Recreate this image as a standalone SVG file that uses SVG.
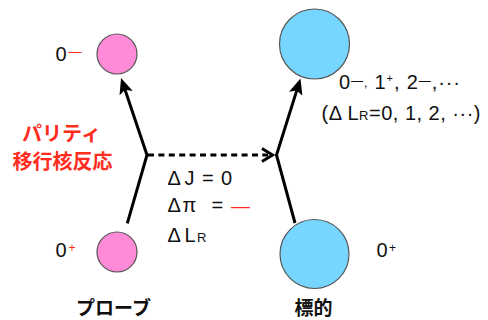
<svg xmlns="http://www.w3.org/2000/svg" width="488" height="320" viewBox="0 0 488 320">
  <style>
    .lat { font-family: "Liberation Sans", Arial, sans-serif; font-size: 20px; fill: #111; }
    .jp { font-family: "Noto Sans CJK JP", "Noto Sans", sans-serif; font-weight: 700; font-size: 19px; fill: #111; }
    .red { fill: #ff2d20; }
    .sub { font-size: 13px; }
    .sup { font-size: 12px; }
    .probe { fill: #ff8ad8; stroke: #555; stroke-width: 1.2; }
    .target { fill: #76d6ff; stroke: #555; stroke-width: 1.2; }
    .arrow { fill: none; stroke: #000; stroke-width: 3; stroke-linejoin: miter; }
    .dash { fill: none; stroke: #000; stroke-width: 3; stroke-dasharray: 6 4.4; }
  </style>
  <defs>
    <marker id="head" markerUnits="userSpaceOnUse" viewBox="0 0 16 14" markerWidth="16" markerHeight="14" refX="8" refY="7" orient="auto">
      <path d="M0,0 L16,7 L0,14 L3.5,7 Z" fill="#000"/>
    </marker>
  </defs>

  <!-- probe nucleus: final state -->
  <g id="probe-final">
    <circle class="probe" cx="117" cy="54" r="20"/>
    <text class="lat" x="55.5" y="61">0<tspan class="red" x="68.5" y="55.5" style="font-size:13px">—</tspan></text>
  </g>

  <!-- probe nucleus: initial state -->
  <g id="probe-initial">
    <circle class="probe" cx="117" cy="252" r="20"/>
    <text class="lat" x="55.5" y="257">0<tspan class="red sup" x="68.5" y="251.5">+</tspan></text>
  </g>

  <!-- target nucleus: excited states -->
  <g id="target-final">
    <circle class="target" cx="314.5" cy="44" r="35"/>
    <text class="lat" x="339" y="89" textLength="121" lengthAdjust="spacing">0<tspan dy="-4.5" style="font-size:12px">—</tspan><tspan dy="2" style="font-size:12px">,</tspan><tspan dy="2.5"> 1</tspan><tspan dy="-7.5" style="font-size:11px">+</tspan><tspan dy="7.5">, 2</tspan><tspan dy="-4.5" style="font-size:12px">—</tspan><tspan dy="4.5">,···</tspan></text>
    <text class="lat" x="321.5" y="120" textLength="159" lengthAdjust="spacing">(Δ L<tspan style="font-size:13px">R</tspan>=0, 1, 2, ···)</text>
  </g>

  <!-- target nucleus: ground state -->
  <g id="target-initial">
    <circle class="target" cx="314.5" cy="254" r="34.5"/>
    <text class="lat" x="376.5" y="257">0<tspan class="sup" x="389" y="252">+</tspan></text>
  </g>

  <!-- reaction labels -->
  <g id="reaction-label">
    <text class="jp red" x="61.5" y="141" text-anchor="middle" style="font-size:20px">パリティ</text>
    <text class="jp red" x="62.5" y="169" text-anchor="middle" style="font-size:20px">移行核反応</text>
  </g>

  <g id="transfer-label">
    <text class="lat" y="185"><tspan x="167.5">Δ</tspan><tspan x="184.5">J</tspan><tspan x="202">=</tspan><tspan x="221">0</tspan></text>
    <text class="lat" y="212"><tspan x="167.5">Δ</tspan><tspan x="182.5">π</tspan><tspan x="211.5">=</tspan><tspan class="red" x="231" style="font-size:19px">—</tspan></text>
    <text class="lat" y="242"><tspan x="167.5">Δ</tspan><tspan x="184.5">L</tspan><tspan class="sub" x="197">R</tspan></text>
  </g>

  <g id="probe-caption">
    <text class="jp" x="113.5" y="315" text-anchor="middle">プローブ</text>
  </g>
  <g id="target-caption">
    <text class="jp" x="313.5" y="315" text-anchor="middle">標的</text>
  </g>

  <!-- connectors -->
  <g id="connectors">
    <polyline class="arrow" points="127.3,223.3 147,155 123.6,85.6" marker-end="url(#head)"/>
    <polyline class="arrow" points="295,223 276.5,155 298.1,86.1" marker-end="url(#head)"/>
    <line class="dash" x1="148" y1="155" x2="268" y2="155"/>
    <polyline class="arrow" points="262,148.5 272.5,155 262,161.5"/>
  </g>
</svg>
